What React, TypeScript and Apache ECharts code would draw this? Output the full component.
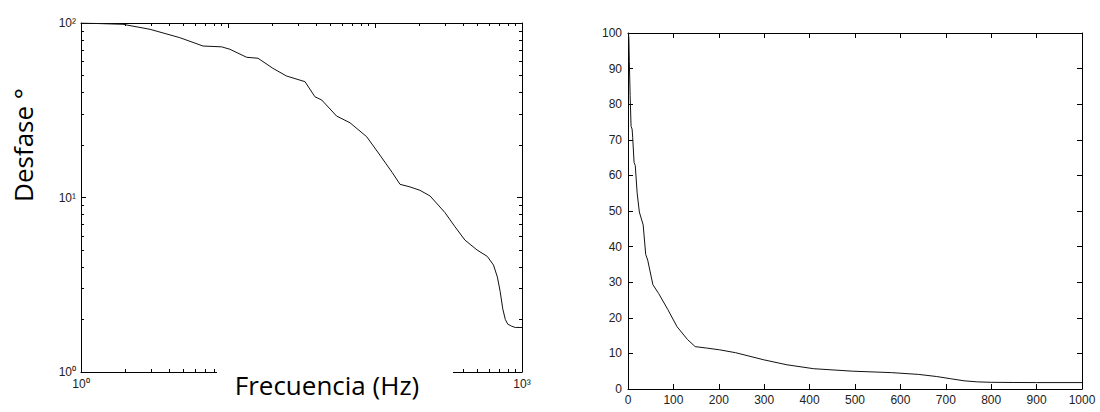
import React, { useEffect, useRef } from "react";
import * as echarts from "echarts";

// Frequency response data
const freqHz = [1, 1.93, 2.95, 4.7, 6.76, 9.06, 10.3, 13.4, 16, 20.2, 25, 33.4, 39, 43.4, 54.8, 67.6, 87.8, 108, 131, 148, 173, 202, 237, 299, 350, 409, 495, 580, 640, 680, 710, 740, 770, 800, 850, 900, 1000];
const phaseDeg = [100, 98.3, 92, 82.4, 73.8, 73, 70.7, 63.6, 62.8, 55, 49.7, 46.1, 37.8, 36.2, 29.3, 26.8, 22.3, 17.5, 13.9, 11.9, 11.5, 11, 10.2, 8.2, 6.8, 5.7, 5.0, 4.6, 4.1, 3.5, 2.9, 2.3, 2.0, 1.88, 1.83, 1.8, 1.8];

// Tick values
const logDecadesX = [1, 10, 100, 1000];
const logDecadesY = [1, 10, 100];
const logLabelsX = [1, 1000];
const logLabelsY = [1, 10, 100];
const minorFactors = [2, 3, 4, 5, 6, 7, 8, 9];

const xTitle = "Frecuencia (Hz)";
const yTitle = "Desfase °";

const SUP: Record<string, string> = { "0": "⁰", "1": "¹", "2": "²", "3": "³" };

function minorTicks(decades: number[]) {
  const out: number[] = [];
  decades.slice(0, -1).forEach((d) => minorFactors.forEach((k) => out.push(k * d)));
  return out;
}

export default function App() {
  const ref = useRef<HTMLDivElement>(null);

  useEffect(() => {
    document.body.style.margin = "0";
    if (!ref.current) return;
    const chart = echarts.init(ref.current, undefined, { renderer: "svg" });

    const lineStyle = { color: "#000", width: 1 };
    const labelFont = { color: "#222", fontSize: 12, fontFamily: "Liberation Sans, Arial, sans-serif" };
    const supFmt = (v: number) => "10" + SUP[String(Math.round(Math.log10(v)))];

    const minorX = minorTicks(logDecadesX);
    const minorY = minorTicks(logDecadesY);

    const logX = (pos: string, major: boolean, labels: boolean) => ({
      type: "log",
      logBase: 10,
      gridIndex: 0,
      min: 1,
      max: 1000,
      position: pos,
      axisLine: { show: major, onZero: false, lineStyle },
      axisTick: { show: true, inside: true, length: major ? 5 : 3, customValues: major ? logDecadesX : minorX, lineStyle },
      axisLabel: labels
        ? { show: true, customValues: logLabelsX, formatter: supFmt, margin: 6, ...labelFont }
        : { show: false },
      splitLine: { show: false },
    });
    const logY = (pos: string, major: boolean, labels: boolean) => ({
      type: "log",
      logBase: 10,
      gridIndex: 0,
      min: 1,
      max: 100,
      position: pos,
      axisLine: { show: major, onZero: false, lineStyle },
      axisTick: { show: true, inside: true, length: major ? 5 : 3, customValues: major ? logDecadesY : minorY, lineStyle },
      axisLabel: labels
        ? { show: true, customValues: logLabelsY, formatter: supFmt, margin: 5, ...labelFont }
        : { show: false },
      splitLine: { show: false },
    });
    const linX = (pos: string, labels: boolean) => ({
      type: "value",
      gridIndex: 1,
      min: 0,
      max: 1000,
      interval: 100,
      position: pos,
      axisLine: { show: true, onZero: false, lineStyle },
      axisTick: { show: true, inside: true, length: 5, lineStyle },
      axisLabel: labels ? { show: true, margin: 5, formatter: (v: number) => String(v), ...labelFont } : { show: false },
      splitLine: { show: false },
    });
    const linY = (pos: string, labels: boolean) => ({
      type: "value",
      gridIndex: 1,
      min: 0,
      max: 100,
      interval: 10,
      position: pos,
      axisLine: { show: true, onZero: false, lineStyle },
      axisTick: { show: true, inside: true, length: 5, lineStyle },
      axisLabel: labels ? { show: true, margin: 6, formatter: (v: number) => String(v), ...labelFont } : { show: false },
      splitLine: { show: false },
    });

    const pts = freqHz.map((f, i) => [f, phaseDeg[i]]);

    chart.setOption({
      animation: false,
      backgroundColor: "#fff",
      grid: [
        { left: 81, top: 23, width: 441, height: 349, outerBoundsMode: "none", containLabel: false },
        { left: 628, top: 33, width: 454, height: 356, outerBoundsMode: "none", containLabel: false },
      ],
      xAxis: [
        logX("bottom", true, true),
        logX("bottom", false, false),
        logX("top", true, false),
        logX("top", false, false),
        linX("bottom", true),
        linX("top", false),
      ],
      yAxis: [
        logY("left", true, true),
        logY("left", false, false),
        logY("right", true, false),
        logY("right", false, false),
        linY("left", true),
        linY("right", false),
      ],
      series: [
        {
          type: "line",
          xAxisIndex: 0,
          yAxisIndex: 0,
          data: pts,
          showSymbol: false,
          symbol: "none",
          lineStyle: { color: "#111", width: 1 },
        },
        {
          type: "line",
          xAxisIndex: 4,
          yAxisIndex: 4,
          data: pts,
          showSymbol: false,
          symbol: "none",
          lineStyle: { color: "#111", width: 1 },
        },
      ],
      graphic: [
        {
          type: "rect",
          z: 100,
          shape: { x: 217, y: 362, width: 236, height: 40 },
          style: { fill: "#fff" },
        },
        {
          type: "text",
          z: 101,
          x: 327,
          y: 385,
          style: {
            text: xTitle,
            fontSize: 26,
            fontFamily: "Open Sans, Noto Sans, sans-serif",
            fill: "#000",
            align: "center",
            verticalAlign: "middle",
          },
        },
        {
          type: "text",
          z: 101,
          x: 23,
          y: 145,
          rotation: Math.PI / 2,
          style: {
            text: yTitle,
            fontSize: 26,
            fontFamily: "Open Sans, Noto Sans, sans-serif",
            fill: "#000",
            align: "center",
            verticalAlign: "middle",
          },
        },
      ],
    });

    return () => chart.dispose();
  }, []);

  return <div ref={ref} style={{ width: 1100, height: 412 }} />;
}
